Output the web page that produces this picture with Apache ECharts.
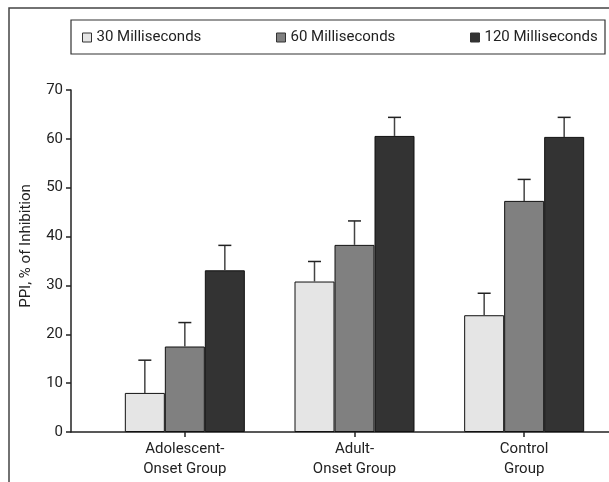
<!DOCTYPE html>
<html>
<head>
<meta charset="utf-8">
<script src="https://cdn.jsdelivr.net/npm/echarts@6/dist/echarts.min.js"></script>
<style>html,body{margin:0;padding:0;background:#fff}#c{width:609px;height:482px}</style>
</head>
<body>
<div id="c"></div>
<script>
var categories = ['Adolescent-\nOnset Group', 'Adult-\nOnset Group', 'Control\nGroup'];
var seriesNames = ['30 Milliseconds', '60 Milliseconds', '120 Milliseconds'];
var values30 = [8.0, 30.8, 23.9];
var values60 = [17.5, 38.3, 47.3];
var values120 = [33.1, 60.6, 60.4];
var err30 = [14.7, 34.9, 28.4];
var err60 = [22.4, 43.2, 51.7];
var err120 = [38.2, 64.4, 64.4];
var yTicks = [0, 10, 20, 30, 40, 50, 60, 70];

var FONT = "Roboto, 'Liberation Sans', Arial, sans-serif";
var FS = 15;
var colors = ['#e5e5e5', '#808080', '#333333'];
var allValues = [values30, values60, values120];
var allErr = [err30, err60, err120];
var BAR_W = 40;

var chart = echarts.init(document.getElementById('c'), null, {renderer: 'canvas'});

var series = [];
seriesNames.forEach(function (name, si) {
  series.push({
    name: name,
    type: 'bar',
    xAxisIndex: 1,
    yAxisIndex: 1,
    data: allValues[si],
    barWidth: BAR_W,
    barGap: '0%',
    itemStyle: {color: colors[si], borderColor: '#111', borderWidth: 1},
    z: 3
  });
});
seriesNames.forEach(function (name, si) {
  var data = allValues[si].map(function (v, i) { return [i, v, allErr[si][i]]; });
  series.push({
    type: 'custom',
    xAxisIndex: 1,
    yAxisIndex: 1,
    data: data,
    z: 5,
    silent: true,
    renderItem: function (params, api) {
      var base = api.coord([api.value(0), api.value(1)]);
      var top = api.coord([api.value(0), api.value(2)]);
      var x = base[0] + (si - 1) * BAR_W;
      return {
        type: 'group',
        children: [
          {type: 'line', shape: {x1: x, y1: base[1], x2: x, y2: top[1]}, style: {stroke: '#444', lineWidth: 1.5}},
          {type: 'line', shape: {x1: x - 6.5, y1: top[1], x2: x + 6.5, y2: top[1]}, style: {stroke: '#222', lineWidth: 1.5}}
        ]
      };
    }
  });
});

var legendLefts = [82, 276, 470];
var legends = seriesNames.map(function (n, i) {
  return {
    data: [{name: n, icon: 'rect', itemStyle: {borderColor: '#333', borderWidth: 1}}],
    left: legendLefts[i],
    top: 30,
    padding: 0,
    itemWidth: 9,
    itemHeight: 9,
    selectedMode: false,
    textStyle: {fontFamily: FONT, fontSize: FS, color: '#222', lineHeight: 15}
  };
});

var option = {
  animation: false,
  backgroundColor: '#fff',
  legend: legends,
  grid: [
    {left: 71, right: 0, top: 90, bottom: 50},
    {left: 100, width: 531, top: 90, bottom: 50}
  ],
  xAxis: [
    {type: 'value', gridIndex: 0, min: 0, max: 1,
      axisLine: {show: true, lineStyle: {color: '#222', width: 1.5}},
      axisTick: {show: false}, axisLabel: {show: false}, splitLine: {show: false}},
    {type: 'category', gridIndex: 1, data: categories,
      axisLine: {show: false},
      axisTick: {show: true, alignWithLabel: true, length: 5, lineStyle: {color: '#222', width: 1.5}},
      axisLabel: {fontFamily: FONT, fontSize: FS, color: '#222', lineHeight: 20, margin: 7},
      splitLine: {show: false}}
  ],
  yAxis: [
    {type: 'value', gridIndex: 0, min: yTicks[0], max: yTicks[yTicks.length - 1], interval: 10,
      axisLine: {show: true, lineStyle: {color: '#222', width: 1.5}},
      axisTick: {show: true, length: 5, lineStyle: {color: '#222', width: 1.5}},
      axisLabel: {fontFamily: FONT, fontSize: FS, color: '#222', margin: 8},
      splitLine: {show: false}},
    {type: 'value', gridIndex: 1, min: yTicks[0], max: yTicks[yTicks.length - 1], interval: 10,
      show: false, splitLine: {show: false}}
  ],
  graphic: [
    {type: 'rect', shape: {x: 9, y: 8, width: 700, height: 600}, style: {fill: 'none', stroke: '#444', lineWidth: 1.5}, z: 1},
    {type: 'rect', shape: {x: 71, y: 20, width: 534, height: 34}, style: {fill: 'none', stroke: '#333', lineWidth: 1.2}, z: 1},
    {type: 'text', x: 26, y: 246, rotation: Math.PI / 2,
      style: {text: 'PPI, % of Inhibition', fontFamily: FONT, fontSize: FS, fill: '#222', textAlign: 'center', textVerticalAlign: 'middle'}}
  ],
  series: series
};
chart.setOption(option);
</script>
</body>
</html>
